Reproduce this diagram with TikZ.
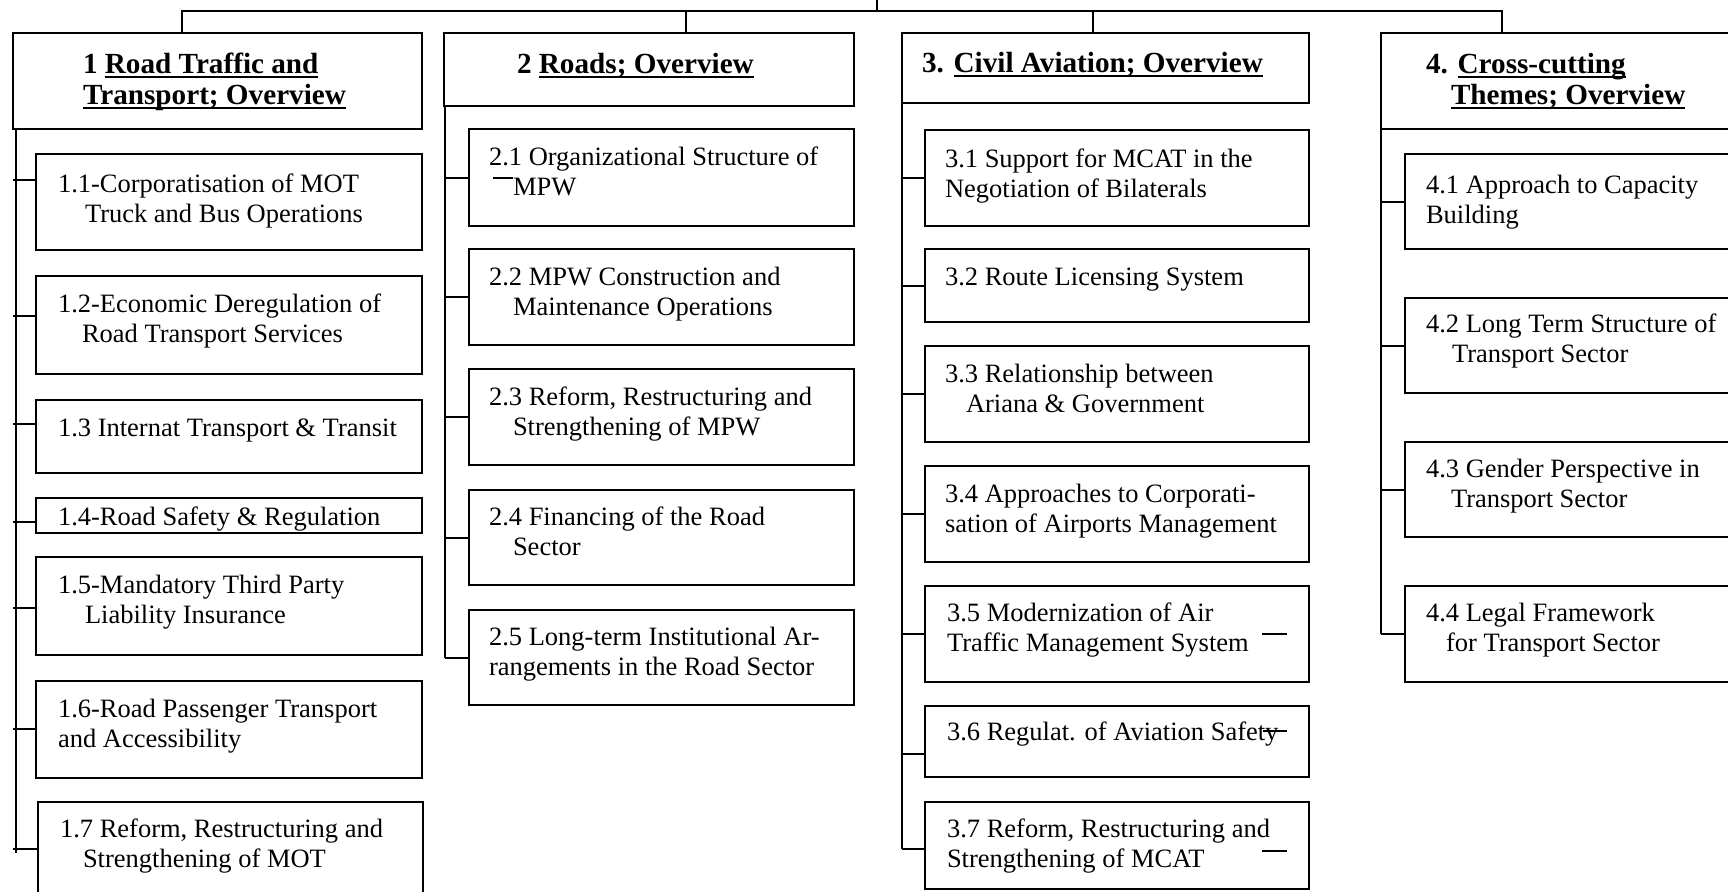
\documentclass[tikz,border=0pt]{standalone}
\usepackage{fontspec}
\setmainfont{Liberation Serif}
\usetikzlibrary{calc}
\newcommand\ml[2][15pt]{\vtop{\baselineskip=#1\lineskiplimit=-\maxdimen #2}}
\newcommand\tline[1]{\hbox{#1}}
\newcommand\uln[1]{\setbox0\hbox{#1}\rlap{\rule[-2.6pt]{\wd0}{1pt}}\box0}
\begin{document}
\begin{tikzpicture}[x=0.5pt,y=-0.5pt,line width=1pt,
  box/.style 2 args={draw,rectangle,anchor=north west,inner sep=0pt,outer sep=0pt,minimum width=#1*0.5pt,minimum height=#2*0.5pt},
  txt/.style={anchor=base west,inner sep=0pt,outer sep=0pt,font=\fontsize{13.25}{15}\selectfont},
  htxt/.style={anchor=base west,inner sep=0pt,outer sep=0pt,font=\bfseries\fontsize{14.6}{15.5}\selectfont},
  link/.style={draw,line width=1pt}]
\useasboundingbox (0,0) rectangle (1728,891);
\clip (0,0) rectangle (1728,891);
% headers
\node[box={409}{96}] (h1) at (13,33) {};
\node[box={410}{73}] (h2) at (444,33) {};
\node[box={407}{70}] (h3) at (902,33) {};
\node[box={420}{96}] (h4) at (1381,33) {};
\node[htxt] (h1t) at ($(h1.north west)+(70,40)$) {\ml[15.5pt]{\tline{1 \uln{Road Traffic and}}\tline{\uln{Transport; Overview}}}};
\node[htxt] (h2t) at ($(h2.north west)+(73,40)$) {2 \uln{Roads; Overview}};
\node[htxt] (h3t) at ($(h3.north west)+(20,39)$) {3. \uln{Civil Aviation; Overview}};
\node[htxt] (h4t) at ($(h4.north west)+(45,40)$) {\ml[15.5pt]{\tline{4. \uln{Cross-cutting}}\tline{\hspace*{12.5pt}\uln{Themes; Overview}}}};
% top bus
\coordinate (root) at (877,-10);
\coordinate (bus) at (877,11);
\coordinate (d1) at ($(h1.north west)+(169,0)$);
\coordinate (d2) at ($(h2.north west)+(242,0)$);
\coordinate (d3) at ($(h3.north west)+(191,0)$);
\coordinate (d4) at ($(h4.north west)+(121,0)$);
\draw[link] (d1) -- (d1 |- bus) -- (d4 |- bus) -- (d4);
\draw[link] (root) -- (bus);
\draw[link] (d2 |- bus) -- (d2);
\draw[link] (d3 |- bus) -- (d3);
% column 1
\node[box={386}{96}] (b11) at (36,154) {};
\node[box={386}{98}] (b12) at (36,276) {};
\node[box={386}{73}] (b13) at (36,400) {};
\node[box={386}{35}] (b14) at (36,498) {};
\node[box={386}{98}] (b15) at (36,557) {};
\node[box={386}{97}] (b16) at (36,681) {};
\node[box={385}{100}] (b17) at (38,802) {};
\node[txt] (t11) at ($(b11.north west)+(22,38)$) {\ml{\tline{1.1-Corporatisation of MOT}\tline{\hspace*{13.5pt}Truck and Bus Operations}}};
\node[txt] (t12) at ($(b12.north west)+(22,36)$) {\ml{\tline{1.2-Economic Deregulation of}\tline{\hspace*{12pt}Road Transport Services}}};
\node[txt] (t13) at ($(b13.north west)+(22,36)$) {1.3 Internat Transport \& Transit};
\node[txt] (t14) at ($(b14.north west)+(22,27)$) {1.4-Road Safety \& Regulation};
\node[txt] (t15) at ($(b15.north west)+(22,36)$) {\ml{\tline{1.5-Mandatory Third Party}\tline{\hspace*{13.5pt}Liability Insurance}}};
\node[txt] (t16) at ($(b16.north west)+(22,36)$) {\ml{\tline{1.6-Road Passenger Transport}\tline{and Accessibility}}};
\node[txt] (t17) at ($(b17.north west)+(22,35)$) {\ml{\tline{1.7 Reform, Restructuring and}\tline{\hspace*{11.5pt}Strengthening of MOT}}};
\coordinate (s1) at ($(h1.south west)+(3,0)$);
\path (b11.north west) ++(0,26) coordinate (c11);
\path (b12.north west) ++(0,40) coordinate (c12);
\path (b13.north west) ++(0,24) coordinate (c13);
\path (b14.north west) ++(0,24) coordinate (c14);
\path (b15.north west) ++(0,51) coordinate (c15);
\path (b16.north west) ++(0,48) coordinate (c16);
\path (b17.north west) ++(0,47) coordinate (c17);
\draw[link] (s1) -- ($(s1 |- c17)+(0,4)$);
\foreach \c in {c11,c12,c13,c14,c15,c16,c17} {\draw[link] (\c) -- (\c -| h1.west);}
% column 2
\node[box={385}{97}] (b21) at (469,129) {};
\node[box={385}{96}] (b22) at (469,249) {};
\node[box={385}{96}] (b23) at (469,369) {};
\node[box={385}{95}] (b24) at (469,490) {};
\node[box={385}{95}] (b25) at (469,610) {};
\node[txt] (t21) at ($(b21.north west)+(20,36)$) {\ml{\tline{2.1 Organizational Structure of}\tline{\hspace*{12pt}MPW}}};
\node[txt] (t22) at ($(b22.north west)+(20,36)$) {\ml{\tline{2.2 MPW Construction and}\tline{\hspace*{12pt}Maintenance Operations}}};
\node[txt] (t23) at ($(b23.north west)+(20,36)$) {\ml{\tline{2.3 Reform, Restructuring and}\tline{\hspace*{12pt}Strengthening of MPW}}};
\node[txt] (t24) at ($(b24.north west)+(20,35)$) {\ml{\tline{2.4 Financing of the Road}\tline{\hspace*{12pt}Sector}}};
\node[txt] (t25) at ($(b25.north west)+(20,35)$) {\ml{\tline{2.5 Long-term Institutional Ar-}\tline{rangements in the Road Sector}}};
\coordinate (s2) at ($(h2.south west)+(1,0)$);
\draw[link] (s2) -- (s2 |- b25.west);
\foreach \b in {b21,b22,b23,b24,b25} {\draw[link] (\b.west) -- (\b.west -| s2);}
\draw (493,178) -- (513,178);
% column 3
\node[box={384}{96}] (b31) at (925,130) {};
\node[box={384}{73}] (b32) at (925,249) {};
\node[box={384}{96}] (b33) at (925,346) {};
\node[box={384}{96}] (b34) at (925,466) {};
\node[box={384}{96}] (b35) at (925,586) {};
\node[box={384}{71}] (b36) at (925,706) {};
\node[box={384}{87}] (b37) at (925,802) {};
\node[txt] (t31) at ($(b31.north west)+(20,37)$) {\ml{\tline{3.1 Support for MCAT in the}\tline{Negotiation of Bilaterals}}};
\node[txt] (t32) at ($(b32.north west)+(20,36)$) {3.2 Route Licensing System};
\node[txt] (t33) at ($(b33.north west)+(20,36)$) {\ml{\tline{3.3 Relationship between}\tline{\hspace*{10.5pt}Ariana \& Government}}};
\node[txt] (t34) at ($(b34.north west)+(20,36)$) {\ml{\tline{3.4 Approaches to Corporati-}\tline{sation of Airports Management}}};
\node[txt] (t35) at ($(b35.north west)+(22,35)$) {\ml{\tline{3.5 Modernization of Air}\tline{Traffic Management System}}};
\node[txt] (t36) at ($(b36.north west)+(22,34)$) {3.6 Regulat. of Aviation Safety};
\node[txt] (t37) at ($(b37.north west)+(22,35)$) {\ml{\tline{3.7 Reform, Restructuring and}\tline{Strengthening of MCAT}}};
\coordinate (s3) at (h3.south west);
\path (b36.north west) ++(0,48) coordinate (c36);
\path (b37.north west) ++(0,47) coordinate (c37);
\draw[link] (s3) -- (s3 |- c37);
\foreach \b in {b31,b32,b33,b34,b35} {\draw[link] (\b.west) -- (\b.west -| s3);}
\draw[link] (c36) -- (c36 -| s3);
\draw[link] (c37) -- (c37 -| s3);
\draw (1262,634) -- (1287,634);
\draw (1263,731) -- (1287,731);
\draw (1262,851) -- (1287,851);
% column 4
\node[box={400}{95}] (b41) at (1405,154) {};
\node[box={400}{95}] (b42) at (1405,298) {};
\node[box={400}{95}] (b43) at (1405,442) {};
\node[box={400}{96}] (b44) at (1405,586) {};
\node[txt] (t41) at ($(b41.north west)+(21,39)$) {\ml{\tline{4.1 Approach to Capacity}\tline{Building}}};
\node[txt] (t42) at ($(b42.north west)+(21,34)$) {\ml{\tline{4.2 Long Term Structure of}\tline{\hspace*{13pt}Transport Sector}}};
\node[txt] (t43) at ($(b43.north west)+(21,35)$) {\ml{\tline{4.3 Gender Perspective in}\tline{\hspace*{12.5pt}Transport Sector}}};
\node[txt] (t44) at ($(b44.north west)+(21,35)$) {\ml{\tline{4.4 Legal Framework}\tline{\hspace*{10pt}for Transport Sector}}};
\coordinate (s4) at (h4.south west);
\draw[link] (s4) -- (s4 |- b44.west);
\foreach \b in {b41,b42,b43,b44} {\draw[link] (\b.west) -- (\b.west -| s4);}
\end{tikzpicture}
\end{document}
